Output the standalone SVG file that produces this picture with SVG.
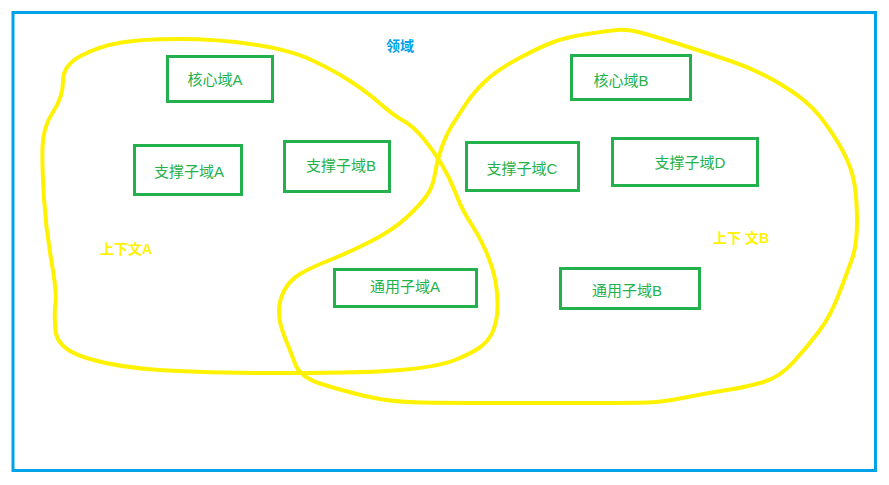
<svg xmlns="http://www.w3.org/2000/svg" width="889" height="485" viewBox="0 0 889 485">
<style>
.frame{fill:none;stroke:#00A2E8;stroke-width:3}
.ctx{fill:none;stroke:#FFF200;stroke-width:4;stroke-linejoin:round;stroke-linecap:round}
.box{fill:none;stroke:#22B14C;stroke-width:3}
.lbl{font-family:"Liberation Sans","Noto Sans CJK SC",sans-serif;font-size:15px;fill:#22B14C;text-anchor:middle}
.ctxlbl{font-family:"Liberation Sans","Noto Sans CJK SC",sans-serif;font-size:14px;font-weight:bold;fill:#FFF200}
.title{font-family:"Liberation Sans","Noto Sans CJK SC",sans-serif;font-size:14px;font-weight:bold;fill:#00A2E8;text-anchor:middle}
</style>
<rect width="889" height="485" fill="#ffffff"/>
<rect class="frame" x="13" y="12.5" width="862.5" height="458"/>
<text class="title" x="400" y="51">领域</text>
<g id="contexts">
<path id="contextA" class="ctx" d="M63,81 Q63,65 81.5,55.5 Q100,46 121.5,42.5 Q143,39 180,39 Q217,39 253.5,44.5 Q290,50 311.5,60 Q333,70 350,81 Q367,92 380,103.5 Q393,115 403,120.5 Q413,126 423,138 Q433,150 441.5,164 Q450,178 456,194 Q462,210 471,223.5 Q480,237 486.5,252.5 Q493,268 495.5,281.5 Q498,295 497.5,308.5 Q497,322 492.5,332 Q488,342 479,348 Q470,354 455,360 Q440,366 406.5,369.5 Q373,373 285,373 Q197,373 153.5,369.5 Q110,366 83.5,357 Q57,348 55.5,330.5 Q54,313 55.5,303 Q57,293 51.5,261.5 Q46,230 44,198.5 Q42,167 42.5,147 Q43,127 53,112 Q63,97 63,81 Z"/>
<path id="contextB" class="ctx" d="M617,30 Q627,29 642,33 Q657,37 682,45 Q707,53 732,61.5 Q757,70 782,85 Q807,100 820,116.5 Q833,133 842.5,150.5 Q852,168 854.5,184 Q857,200 857,222.5 Q857,245 852,259 Q847,273 838.5,295 Q830,317 818.5,332 Q807,347 793.5,362 Q780,377 763.5,382 Q747,387 727,390 Q707,393 685,397.5 Q663,402 648,402.5 Q633,403 541.5,403 Q450,403 420,402.5 Q390,402 365,396 Q340,390 320,383.5 Q300,377 295,363.5 Q290,350 284.5,336.5 Q279,323 279,311.5 Q279,300 284.5,290 Q290,280 300,274 Q310,268 330,260 Q350,252 371.5,241 Q393,230 406.5,217.5 Q420,205 426.5,196 Q433,187 435,173.5 Q437,160 442,146.5 Q447,133 453.5,123 Q460,113 466.5,103 Q473,93 485,81.5 Q497,70 518.5,58.5 Q540,47 553.5,42 Q567,37 587,34 Q607,31 617,30 Z"/>
<text class="ctxlbl" x="100" y="254">上下文A</text>
<text class="ctxlbl" x="713" y="243">上下 文B</text>
</g>
<g id="core-a"><rect class="box" x="167.5" y="56.5" width="105" height="45"/><text class="lbl" x="215" y="85">核心域A</text></g>
<g id="support-a"><rect class="box" x="134.5" y="145.5" width="107" height="49"/><text class="lbl" x="189" y="177">支撑子域A</text></g>
<g id="support-b"><rect class="box" x="284.5" y="141.5" width="105" height="50"/><text class="lbl" x="341" y="171">支撑子域B</text></g>
<g id="core-b"><rect class="box" x="571.5" y="55.5" width="119" height="44"/><text class="lbl" x="621" y="86">核心域B</text></g>
<g id="support-c"><rect class="box" x="466.5" y="142.5" width="112" height="48"/><text class="lbl" x="522" y="174">支撑子域C</text></g>
<g id="support-d"><rect class="box" x="612.5" y="138.5" width="145" height="47"/><text class="lbl" x="690" y="168">支撑子域D</text></g>
<g id="generic-a"><rect class="box" x="334.5" y="269.5" width="142" height="37"/><text class="lbl" x="405" y="292">通用子域A</text></g>
<g id="generic-b"><rect class="box" x="560.5" y="268.5" width="139" height="40"/><text class="lbl" x="627" y="296">通用子域B</text></g>
</svg>
